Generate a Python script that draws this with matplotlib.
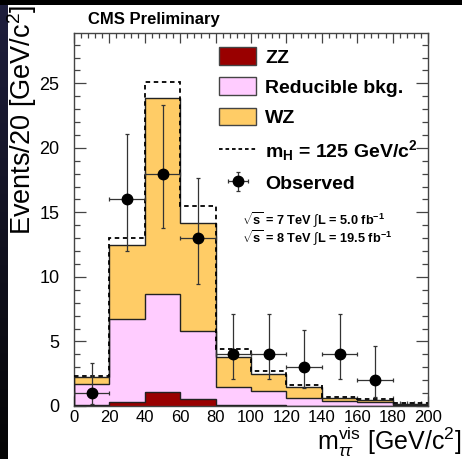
import numpy as np
import matplotlib
matplotlib.use("Agg")
import matplotlib.pyplot as plt
from matplotlib.patches import Patch, Rectangle
from matplotlib.lines import Line2D
from matplotlib.ticker import MultipleLocator

plt.rcParams['font.family'] = ['Liberation Sans', 'DejaVu Sans']
plt.rcParams['mathtext.fontset'] = 'custom'
plt.rcParams['mathtext.rm'] = 'Liberation Sans'
plt.rcParams['mathtext.bf'] = 'Liberation Sans:bold'
plt.rcParams['mathtext.it'] = 'Liberation Sans:italic'

# ---------------- data ----------------
bin_edges = [0, 20, 40, 60, 80, 100, 120, 140, 160, 180, 200]
zz = [0.05, 0.33, 1.10, 0.55, 0.10, 0.05, 0.03, 0.02, 0.01, 0.00]
reducible = [1.63, 6.43, 7.54, 5.25, 1.35, 1.14, 0.57, 0.34, 0.30, 0.05]
wz = [0.54, 5.74, 15.26, 8.40, 2.32, 1.29, 0.90, 0.24, 0.16, 0.08]
signal = [0.13, 0.50, 1.20, 1.30, 0.67, 0.26, 0.13, 0.12, 0.11, 0.07]
observed = [1, 16, 18, 13, 4, 4, 3, 4, 2, 0]
obs_err_low = [0.83, 3.96, 4.21, 3.56, 1.91, 1.91, 1.63, 1.91, 1.29, 0.0]
obs_err_high = [2.30, 5.10, 5.32, 4.67, 3.16, 3.16, 2.92, 3.16, 2.64, 1.84]

series_labels = ['ZZ', 'Reducible bkg.', 'WZ']
colors = {'ZZ': '#990000', 'Reducible bkg.': '#FFCCFF', 'WZ': '#FFCC66'}
energy_lines = [r'$\sqrt{\mathbf{s}}$ = 7 TeV $\int$L = 5.0 fb$^{\mathbf{-1}}$',
                r'$\sqrt{\mathbf{s}}$ = 8 TeV $\int$L = 19.5 fb$^{\mathbf{-1}}$']

# ---------------- figure ----------------
W, H = 462, 459
fig = plt.figure(figsize=(W / 100, H / 100), dpi=100, facecolor='black')
fig.patches.append(Rectangle((8 / W, 0), 1, 1 - 5 / H, transform=fig.transFigure,
                             facecolor='white', edgecolor='none', zorder=-10))
gax = fig.add_axes([0, 0, 8 / W, 1 - 5 / H])
g = np.linspace(0, 1, 256)
cols = np.zeros((256, 1, 3))
cols[:, 0, 0] = 0.02 + 0.10 * g
cols[:, 0, 1] = 0.02 + 0.10 * g
cols[:, 0, 2] = 0.02 + 0.22 * g
gax.imshow(cols, aspect='auto', origin='lower', extent=[0, 1, 0, 1])
gax.axis('off')

ax = fig.add_axes([74 / W, 1 - 406 / H, 354 / W, 373 / H])
ax.set_facecolor('white')

edges = np.array(bin_edges)
c_zz = np.array(zz)
c_red = c_zz + np.array(reducible)
c_wz = c_red + np.array(wz)
c_sig = c_wz + np.array(signal)

for vals, name in [(c_wz, 'WZ'), (c_red, 'Reducible bkg.'), (c_zz, 'ZZ')]:
    ax.stairs(vals, edges, baseline=0, fill=True, color=colors[name], zorder=2)
    ax.stairs(vals, edges, baseline=0, fill=False, color='#222222', lw=1.0, zorder=3)

ax.stairs(c_sig, edges, baseline=None, fill=False, color='black', lw=1.3,
          linestyle=(0, (2.5, 2.0)), zorder=4)

centers = 0.5 * (edges[:-1] + edges[1:])
halfw = 0.5 * np.diff(edges)
obs = np.array(observed, dtype=float)
mask = obs > 0
eb = ax.errorbar(centers[mask], obs[mask],
                 yerr=[np.array(obs_err_low)[mask], np.array(obs_err_high)[mask]],
                 xerr=halfw[mask], fmt='o', color='black', ms=7.5,
                 ecolor='#333333', elinewidth=0.9, capsize=1.5, capthick=0.9, zorder=6)

ax.set_xlim(0, 200)
ax.set_ylim(0, 28.9)
ax.xaxis.set_major_locator(MultipleLocator(20))
ax.xaxis.set_minor_locator(MultipleLocator(4))
ax.yaxis.set_major_locator(MultipleLocator(5))
ax.yaxis.set_minor_locator(MultipleLocator(1))
ax.tick_params(axis='both', which='both', direction='in', top=True, right=True,
               color='#444444', width=0.9)
ax.tick_params(axis='y', which='major', length=8.5, pad=10.5, labelsize=13)
ax.tick_params(axis='y', which='minor', length=4.3)
ax.tick_params(axis='x', which='major', length=7, pad=3, labelsize=12)
ax.tick_params(axis='x', which='minor', length=3.5)
for s in ax.spines.values():
    s.set_color('#444444')
    s.set_linewidth(1.0)

fig.text(22 / W, 1 - 5 / H, 'Events/20 [GeV/c$^{2}$]', rotation=90,
         ha='center', va='top', fontsize=19.5)
fig.text(461.5 / W, 1 - 450 / H, r'$\mathrm{m}_{\tau\tau}^{\mathrm{vis}}$ [GeV/c$^{2}$]',
         ha='right', va='baseline', fontsize=18)

fig.text(88 / W, 1 - 24 / H, 'CMS Preliminary', ha='left', va='baseline',
         fontsize=12, fontweight='bold')

handles = [Patch(facecolor=colors[n], edgecolor='#444444', lw=1.0) for n in series_labels]
handles.append(Line2D([], [], color='black', lw=1.3, linestyle=(0, (2.0, 1.6))))
handles.append(eb)
labels = series_labels + [r'm$_{\mathbf{H}}$ = 125 GeV/c$^{\mathbf{2}}$', 'Observed']
leg = ax.legend(handles, labels, loc='upper left', bbox_to_anchor=(0.41, 0.962),
                frameon=False, prop={'weight': 'bold', 'size': 14},
                handlelength=1.92, handleheight=1.0, handletextpad=0.45,
                labelspacing=0.56, borderpad=0.0, borderaxespad=0.0)

ax.text(0.475, 0.474, '\n'.join(energy_lines), transform=ax.transAxes,
        ha='left', va='center', fontsize=9.2, fontweight='bold', linespacing=0.85)

fig.savefig('out.png', dpi=100, facecolor='black')
